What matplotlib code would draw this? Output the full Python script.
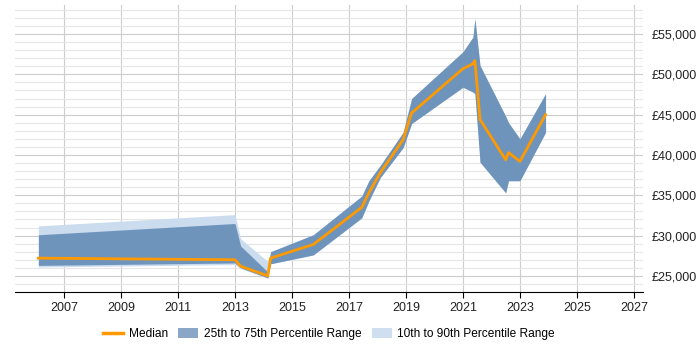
import matplotlib
matplotlib.use("Agg")
import matplotlib.pyplot as plt
from matplotlib.ticker import FuncFormatter, MultipleLocator
from matplotlib.patches import Patch
from matplotlib.lines import Line2D

plt.rcParams['font.family'] = ['Liberation Sans', 'DejaVu Sans']

years = [2006.1, 2013.0, 2013.2, 2014.15, 2014.25, 2015.75, 2017.45, 2017.7, 2018.1,
         2018.9, 2019.2, 2021.0, 2021.35, 2021.42, 2021.6, 2022.5, 2022.6, 2023.0, 2023.9]
median = [27200, 27000, 26200, 25000, 27200, 28900, 33500, 35300, 37800,
          41900, 45200, 50700, 51300, 51700, 44400, 39400, 40300, 39200, 45000]
p25 = [26300, 26600, 26000, 24750, 26500, 27600, 32200, 34300, 37200,
       40900, 43900, 48400, 47800, 47600, 39100, 35300, 36800, 36800, 42800]
p75 = [30100, 31500, 28700, 25500, 28000, 30100, 34900, 36800, 38700,
       42800, 47000, 52800, 54600, 56900, 51100, 44800, 44000, 42000, 47600]
p10 = [26100, 26400, 25900, 24700, 26500, 27600, 32200, 34300, 37200,
       40900, 43900, 48400, 47800, 47600, 39100, 35300, 36800, 36800, 42800]
p90 = [31200, 32600, 29600, 26800, 28000, 30100, 34900, 36800, 38700,
       42800, 47000, 52800, 54600, 56900, 51100, 44800, 44000, 42000, 47600]

xticks = list(range(2007, 2028, 2))

fig = plt.figure(figsize=(7, 3.5), dpi=100)
ax = fig.add_axes([15/700, 1-292/350, 628/700, 287/350])

light = "#cbdcee"
dark = "#6f94bc"
orange = "#ff9900"

ax.fill_between(years, p10, p90, color=light, lw=0, zorder=2)
ax.fill_between(years, p25, p75, color=dark, lw=0, zorder=3)
ax.plot(years, median, color=orange, lw=2, zorder=4)

ax.set_xlim(2005.28, 2027.32)
ax.set_ylim(23000, 58600)
ax.set_xticks(xticks)
ax.yaxis.set_major_locator(MultipleLocator(5000))
ax.yaxis.set_minor_locator(MultipleLocator(1000))
ax.yaxis.tick_right()
ax.yaxis.set_major_formatter(FuncFormatter(lambda v, p: f"£{int(v):,}"))
ax.grid(axis='y', which='major', color='#cccccc', lw=0.8, zorder=0)
ax.grid(axis='y', which='minor', color='#e6e6e6', lw=0.8, zorder=0)
ax.grid(axis='x', which='major', color='#cccccc', lw=0.8, zorder=0)
for s in ['top', 'right', 'left']:
    ax.spines[s].set_visible(False)
ax.spines['bottom'].set_color('black')
ax.tick_params(axis='y', which='both', length=0, labelsize=9, pad=6)
ax.tick_params(axis='x', length=4, labelsize=9)
for lab in ax.get_yticklabels() + ax.get_xticklabels():
    lab.set_color('#222222')

handles = [Line2D([0], [0], color=orange, lw=2.5),
           Patch(facecolor="#8aa7c8", edgecolor='none'),
           Patch(facecolor="#cfdff0", edgecolor='none')]
labels = ["Median", "25th to 75th Percentile Range", "10th to 90th Percentile Range"]
fig.legend(handles, labels, loc='center', bbox_to_anchor=(0.47, 1-334/350), ncol=3,
           frameon=False, fontsize=8.6, handlelength=1.7, columnspacing=0.85,
           handletextpad=0.45, handleheight=0.9)

fig.savefig("out.png", dpi=100)
